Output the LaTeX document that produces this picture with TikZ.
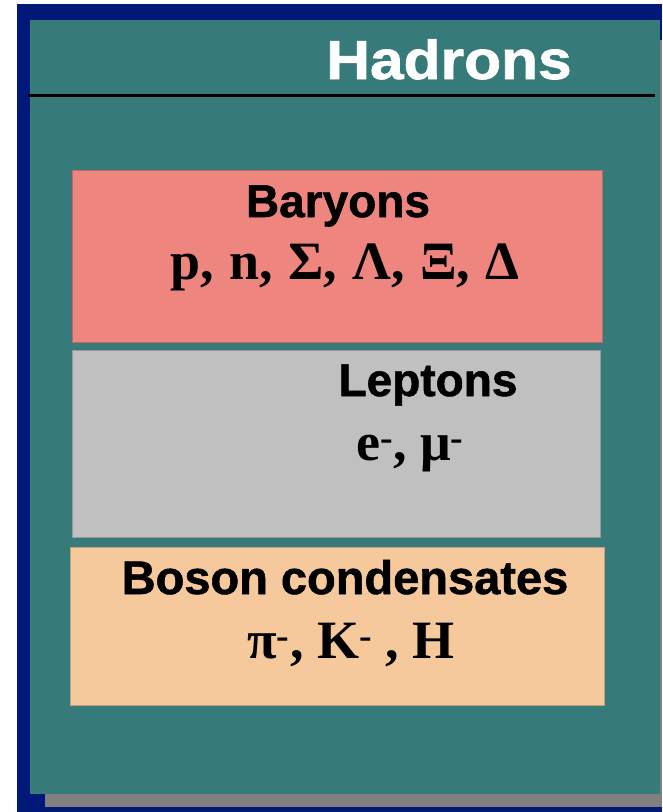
\documentclass[tikz,border=0pt]{standalone}
\usepackage{graphicx}
\usepackage{fontspec}
\setmainfont{Liberation Serif}
\setsansfont{Liberation Sans}[BoldFeatures={FakeBold=1.2}]
\definecolor{bgblue}{RGB}{0,24,120}
\definecolor{teal2}{RGB}{55,122,122}
\definecolor{shadowgray}{RGB}{128,128,128}
\definecolor{baryred}{RGB}{238,133,127}
\definecolor{leptgray}{RGB}{192,192,192}
\definecolor{bosonpeach}{RGB}{245,201,156}
\tikzset{
  catbox/.style={draw=#1!80!black, line width=0.8pt, fill=#1},
  head/.style={font=\sffamily\bfseries\fontsize{46}{50}\selectfont, inner sep=0pt, anchor=base},
  formula/.style={font=\rmfamily\bfseries\fontsize{54}{60}\selectfont, inner sep=0pt, anchor=base},
}
\begin{document}
\begin{tikzpicture}[x=1pt,y=-1pt]
\useasboundingbox (0,0) rectangle (662,812);
% outer blue frame
\fill[bgblue] (17,4) rectangle (662,812);
% shadow
\fill[shadowgray] (45,780) rectangle (662,807);
\fill[shadowgray] (650,40) rectangle (662,807);
% teal panel
\fill[teal2] (30,20) rectangle (660,794);
% title and rule
\node[head, font=\sffamily\bfseries\fontsize{55}{60}\selectfont, text=white] (hadrons) at (449,79) {\scalebox{1.1}[1]{Hadrons}};
\coordinate (ruleL) at (28,95);
\coordinate (ruleR) at (655,95);
\draw[line width=3pt, black] (ruleL) -- (ruleR);
% boxes
\path[catbox=baryred] (72,170) rectangle (602,342);
\path[catbox=leptgray] (72,350) rectangle (600,537);
\path[catbox=bosonpeach] (70,547) rectangle (604,705);
% texts
\node[head] (baryons) at (338,217) {Baryons};
\node[formula] (baryonlist) at (345,279) {p,\kern2pt{} n,\kern2pt{} Σ,\kern2pt{} Λ,\kern2pt{} Ξ,\kern2pt{} Δ};
\node[head] (leptons) at (428,396) {Leptons};
\node[formula] (leptonlist) at (410,460) {e\textsuperscript{-}, μ\textsuperscript{-}};
\node[head, font=\sffamily\bfseries\fontsize{47}{50}\selectfont] (boson) at (345,594) {Boson condensates};
\node[formula] (bosonlist) at (351,658) {π\textsuperscript{-}, K\textsuperscript{-} , H};
\end{tikzpicture}
\end{document}
